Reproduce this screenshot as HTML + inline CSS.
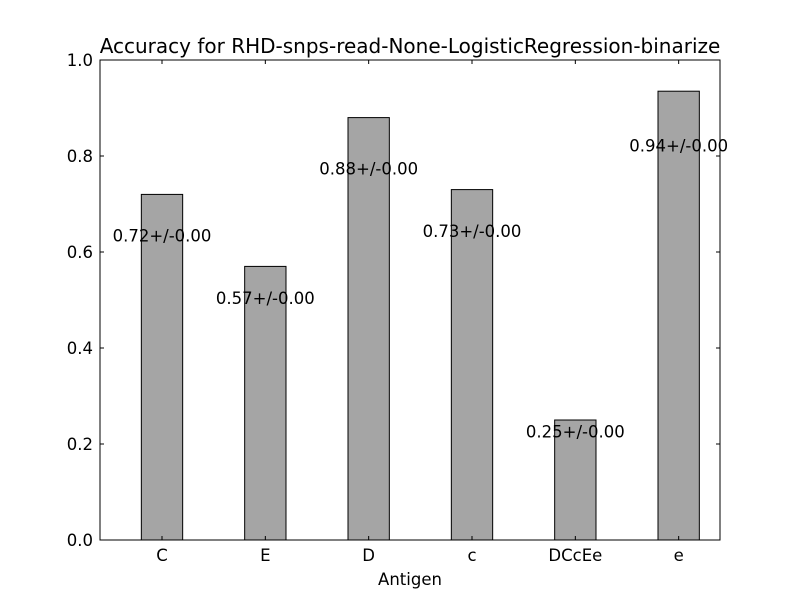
<!DOCTYPE html>
<html><head><meta charset="utf-8"><style>
body{margin:0;background:#fff;}
svg text{font-family:"DejaVu Sans","Liberation Sans",sans-serif;}
</style></head><body>
<svg id="chart" width="800" height="600" xmlns="http://www.w3.org/2000/svg">
<text x="410" y="53" font-size="20" text-anchor="middle">Accuracy for RHD-snps-read-None-LogisticRegression-binarize</text>
<text x="410" y="585" font-size="16.5" text-anchor="middle">Antigen</text>
<g id="marks"></g>
<rect x="100" y="60" width="620" height="480" fill="none" stroke="#000" stroke-width="1"/>
</svg>
<script>
const categories = ["C","E","D","c","DCcEe","e"];
const values = [0.72,0.57,0.88,0.73,0.25,0.935];
const errors = [0,0,0,0,0,0];
const yTicks = [0,0.2,0.4,0.6,0.8,1.0];
const yTickLabels = ["0.0","0.2","0.4","0.6","0.8","1.0"];
const L=100,R=720,T=60,B=540,xmin=-0.6,xmax=5.4;
const xs=v=>L+(v-xmin)/(xmax-xmin)*(R-L);
const ys=v=>B-v*(B-T);
const NS="http://www.w3.org/2000/svg";
const g=document.getElementById('marks');
function mk(tag,attrs,txt){const e=document.createElementNS(NS,tag);for(const k in attrs)e.setAttribute(k,attrs[k]);if(txt!==undefined)e.textContent=txt;g.appendChild(e);return e;}
const bw=0.4;
categories.forEach((c,i)=>{
  const x0=xs(i-bw/2),x1=xs(i+bw/2);
  const r=mk('rect',{x:x0,y:ys(values[i]),width:x1-x0,height:B-ys(values[i]),fill:'#a5a5a5',stroke:'#000','stroke-width':1});
  
  
  const t=mk('text',{x:xs(i),y:ys(values[i]*0.87)+2,'font-size':16.5,'text-anchor':'middle'},values[i].toFixed(2)+'+/-'+errors[i].toFixed(2));
  
  
  const l=mk('text',{x:xs(i),y:B+21,'font-size':16.5,'text-anchor':'middle'},c);
  
  
  const tk=mk('path',{d:`M${xs(i)},${B}v-4M${xs(i)},${T}v4`,stroke:'#000'});
  
  
});
yTicks.forEach((v,i)=>{
  const tk=mk('path',{d:`M${L},${ys(v)}h4M${R},${ys(v)}h-4`,stroke:'#000'});
  
  
  const t=mk('text',{x:L-7,y:ys(v)+6,'font-size':16.5,'text-anchor':'end'},yTickLabels[i]);
  
  
});
</script>
</body></html>
